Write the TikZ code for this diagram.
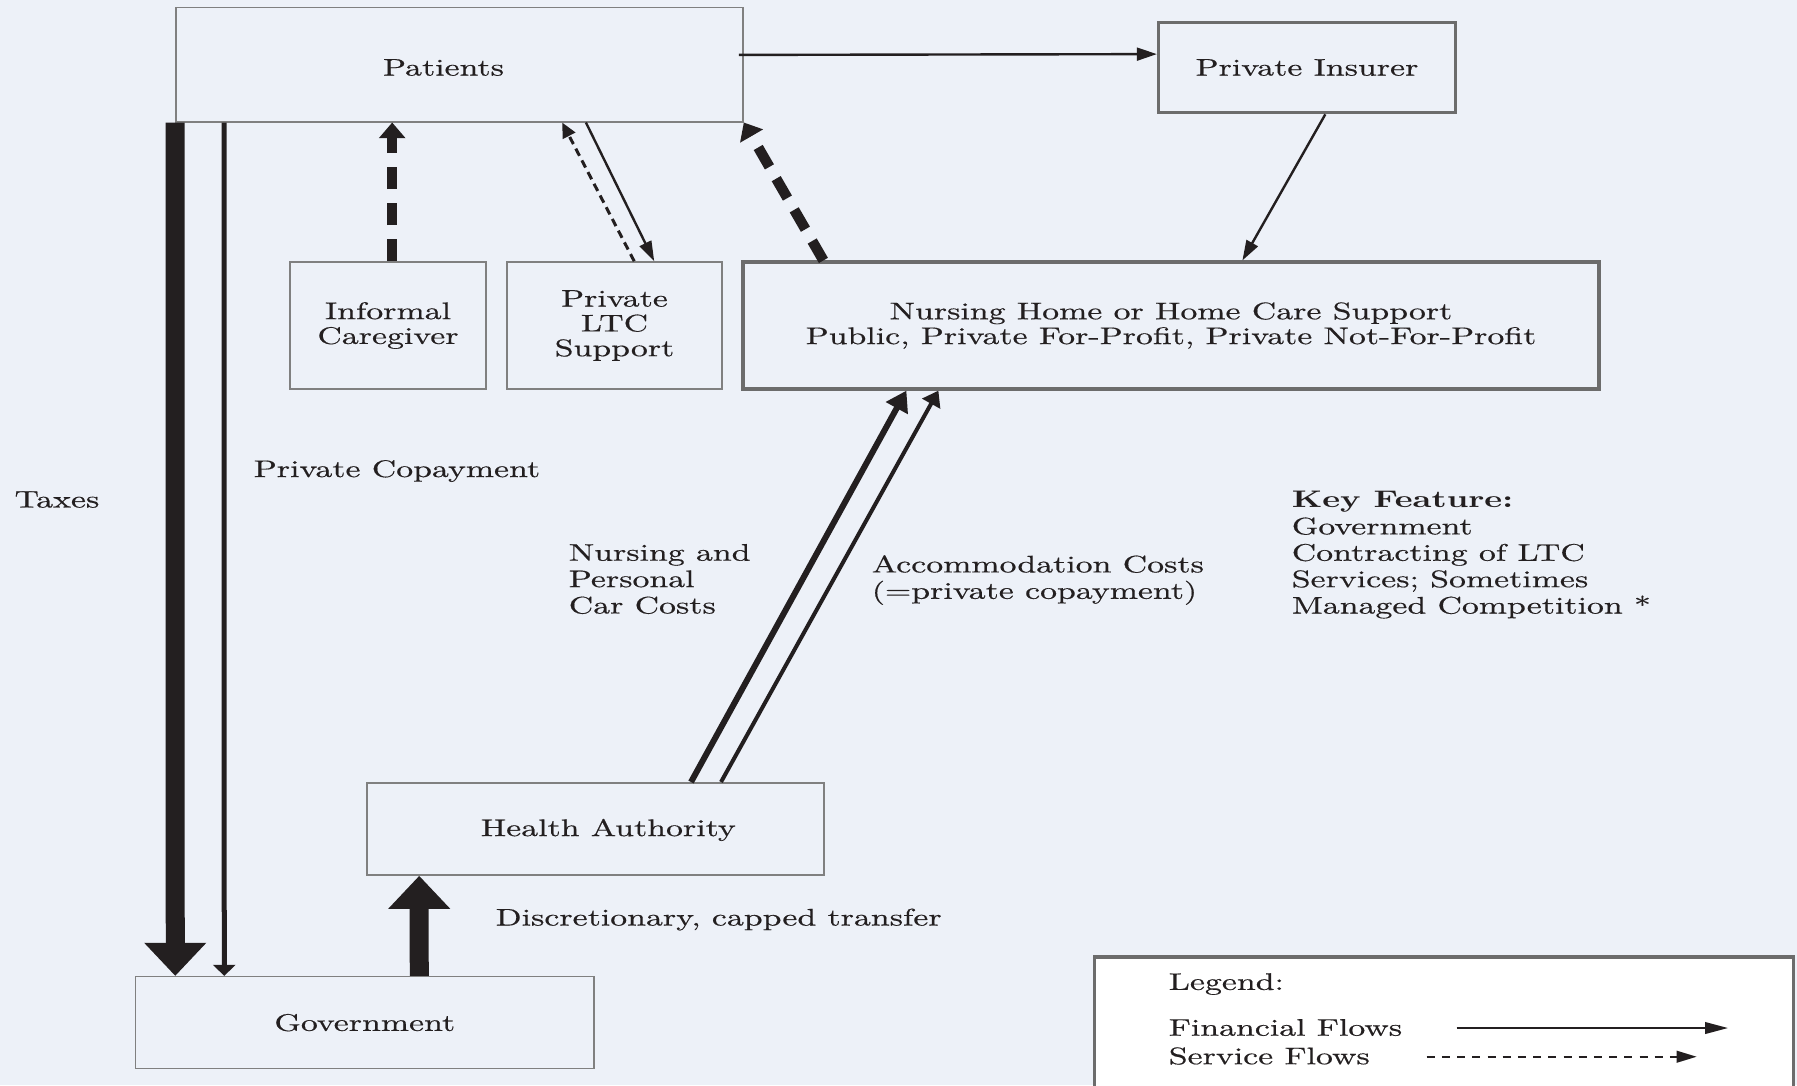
\documentclass[tikz,border=0pt]{standalone}
\usepackage{fontspec}
\setmainfont{lmroman10-regular.otf}[BoldFont=lmroman10-bold.otf,FakeStretch=1.41,UprightFeatures={FakeBold=0.5}]
\usetikzlibrary{arrows.meta,calc}
\definecolor{bg}{RGB}{237,241,248}
\definecolor{ink}{RGB}{35,31,32}
\definecolor{boxgray}{RGB}{128,128,128}
\definecolor{boxdark}{RGB}{108,108,108}
\begin{document}
\begin{tikzpicture}[x=0.25pt,y=-0.25pt,
  box/.style={draw=boxgray, line width=0.4pt, rectangle, inner sep=0pt, align=center,
              font=\fontsize{6}{6.2}\selectfont, text=ink},
  boxthick/.style={box, draw=boxdark, line width=0.8pt},
  boxtext/.style={inner sep=0pt, align=center, font=\fontsize{6}{6.2}\selectfont, text=ink},
  lbl/.style={inner sep=0pt, anchor=west, align=left, font=\fontsize{6}{6.6}\selectfont, text=ink},
  fin/.style={draw=ink, line width=0.6pt, -{Triangle[length=5pt,width=3.2pt]}},
  finmid/.style={draw=ink, line width=1pt, -{Triangle[length=3.75pt,width=5pt]}},
  finbold/.style={draw=ink, line width=1.5pt, -{Triangle[length=5pt,width=6pt]}},
  copay/.style={draw=ink, line width=1.25pt, -{Triangle[length=2.75pt,width=5.5pt]}},
  heavy/.style={draw=ink, line width=4.75pt, -{Triangle[length=8.25pt,width=15pt]}},
  svcthin/.style={draw=ink, line width=0.75pt, dash pattern=on 2pt off 1.3pt, -{Triangle[length=3.75pt,width=3.4pt]}},
  svcthick/.style={draw=ink, line width=2.6pt, dash pattern=on 5.6pt off 3.4pt, -{Triangle[length=3.9pt,width=6.4pt]}},
  legfin/.style={draw=ink, line width=0.5pt, -{Triangle[length=5.75pt,width=2.9pt]}},
  legsvc/.style={draw=ink, line width=0.5pt, dash pattern=on 2pt off 1.8pt, -{Triangle[length=5pt,width=2.9pt]}}
]
\fill[bg] (0,0) rectangle (1797,1085);
\useasboundingbox (0,0) rectangle (1797,1085);

% boxes
\node[box, minimum width=141.75pt, minimum height=28.6pt] (pat) at (459.5,64.5) {};
\node[boxtext] (patlbl) at ($(pat.center)+(-16,3)$) {Patients};
\node[boxthick, minimum width=74.25pt, minimum height=22.6pt] (ins) at (1307,67.5) {Private Insurer};
\node[box, minimum width=49pt, minimum height=31.75pt] (inf) at (388,325.5) {Informal\\Caregiver};
\node[box, minimum width=53.75pt, minimum height=31.75pt] (ltc) at (614.5,325.5) {Private\\LTC\\Support};
\node[boxthick, minimum width=214pt, minimum height=31.75pt] (nur) at (1171,325.5)
  {Nursing Home or Home Care Support\\Public, Private For-Profit, Private Not-For-Profit};
\node[box, minimum width=114.25pt, minimum height=23.05pt] (hea) at (595.3,828.9) {};
\node[boxtext] (healbl) at ($(hea.center)+(13,1)$) {Health Authority};
\node[box, minimum width=114.6pt, minimum height=23pt] (gov) at (364.75,1022.65) {Government};

% legend
\node[boxthick, fill=white, minimum width=174.75pt, minimum height=38.25pt] (leg) at (1444,1033.5) {};
\node[lbl] (legt) at (1168,984) {Legend:};
\node[lbl] (legf) at (1168,1027.5) {Financial Flows};
\node[lbl] (legs) at (1168,1056) {Service Flows};
\coordinate (fa) at (1456.7,1028);
\coordinate (fb) at (1728,1028);
\coordinate (sa) at (1426.7,1056.7);
\coordinate (sb) at (1696.7,1056.7);
\draw[legfin] (fa) -- (fb);
\draw[legsvc] (sa) -- (sb);

% labels
\node[lbl] (taxes) at (13.8,499.5) {Taxes};
\node[lbl] (copayl) at (253,471) {Private Copayment};
\node[lbl] (nurl) at (568,579) {Nursing and\\Personal\\Car Costs};
\node[lbl] (accl) at (871,580) {Accommodation Costs\\(=private copayment)};
\node[lbl] (disc) at (495,919.5) {Discretionary, capped transfer};
\node[lbl] (key) at (1291,555) {\textbf{Key Feature:}\\Government\\Contracting of LTC\\Services; Sometimes\\Managed Competition *};

% connectors
\draw[fin] ($(pat.north east)+(-5,48.4)$) -- ($(ins.north west)+(0,33.4)$);
\draw[fin] ($(ins.south west)+(168.4,0)$) -- ($(nur.north west)+(501,0)$);
\draw[svcthick] ($(inf.north west)+(103,0)$) -- ($(pat.south west)+(217,0)$);
\draw[svcthin] ($(ltc.north west)+(128,0)$) -- ($(pat.south west)+(387,0)$);
\draw[fin] ($(pat.south west)+(410.7,0)$) -- ($(ltc.north west)+(148,0)$);
\draw[svcthick] ($(nur.north west)+(82,0)$) -- (pat.south east);
\draw[finbold] ($(hea.north west)+(325,0)$) -- ($(nur.south west)+(165,0)$);
\draw[finmid] ($(hea.north west)+(355,0)$) -- ($(nur.south west)+(197,0)$);
\draw[heavy] ($(gov.north west)+(284.5,0)$) -- ($(hea.south west)+(53.2,0)$);
\draw[heavy] (pat.south west) -- ($(gov.north west)+(40.5,0)$);
\draw[copay] ($(pat.south west)+(49,0)$) -- ($(gov.north west)+(89.5,0)$);
\end{tikzpicture}
\end{document}
